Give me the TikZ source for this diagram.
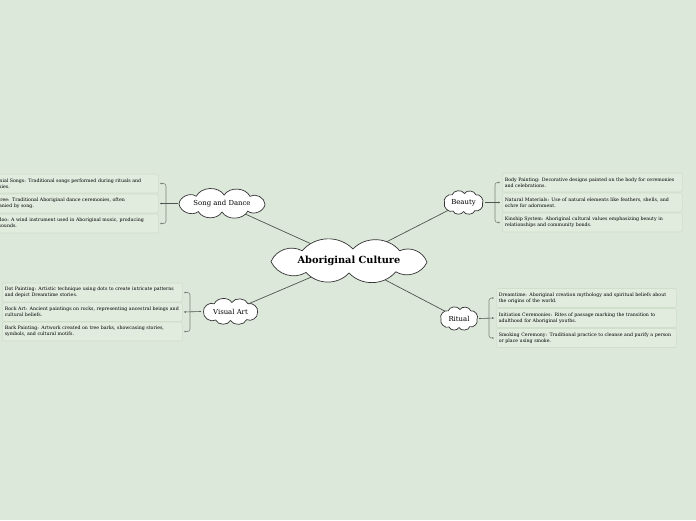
\documentclass[tikz,border=0pt]{standalone}
\usepackage{fontspec}
\setmainfont{DejaVu Serif}
\usetikzlibrary{arrows.meta,backgrounds}
\definecolor{bg}{RGB}{220,232,217}
\definecolor{boxfill}{RGB}{225,235,222}
\definecolor{boxline}{RGB}{208,222,204}
\definecolor{lnk}{RGB}{80,84,80}
\definecolor{brk}{RGB}{125,132,123}
% #1 cx, #2 cy, #3 A, #4 B, #5 bend
\newcommand\puffcloud[5]{%
  \filldraw[cloudline] (#1-0.6*#3,#2-0.85*#4)
    to[bend left=#5] (#1+0.05*#3,#2-#4)
    to[bend left=#5] (#1+0.65*#3,#2-0.85*#4)
    to[bend left=#5] (#1+#3,#2+0.1*#4)
    to[bend left=#5] (#1+0.6*#3,#2+0.9*#4)
    to[bend left=#5] (#1,#2+#4)
    to[bend left=#5] (#1-0.55*#3,#2+0.95*#4)
    to[bend left=#5] (#1-#3,#2+0.05*#4)
    to[bend left=#5] cycle;}
\begin{document}
\begin{tikzpicture}[x=1pt,y=-1pt,
  cloudline/.style={draw=black!80, fill=white, line width=0.7pt},
  cloudtext/.style={rectangle, inner sep=0pt},
  infobox/.style={rectangle, rounded corners=2pt, draw=boxline, fill=boxfill, line width=0.6pt, minimum width=180pt, minimum height=19pt, text width=175pt, align=left, anchor=west, inner sep=0pt, font=\fontsize{4.7}{6}\selectfont},
  link/.style={draw=lnk, line width=0.7pt},
  brace/.style={draw=brk, line width=0.6pt, rounded corners=2.5pt, {Stealth[length=1.8pt,width=1.8pt]}-{Stealth[length=1.8pt,width=1.8pt]}},
  stem/.style={draw=lnk, line width=0.6pt, -{Stealth[length=1.8pt,width=1.8pt]}}
]
\useasboundingbox (0,0) rectangle (696,520);
\clip (0,0) rectangle (696,520);

% clouds
\puffcloud{349}{261}{78}{12}{48}
\node[cloudtext, minimum width=160pt, minimum height=42pt, font=\bfseries\fontsize{9.8}{11}\selectfont] (main) at (349,261) {Aboriginal Culture};
\puffcloud{222}{203.5}{43}{8.5}{60}
\node[cloudtext, minimum width=88pt, minimum height=26pt, font=\fontsize{6.9}{8}\selectfont] (sd) at (222,203.5) {Song and Dance};
\puffcloud{463.5}{202.5}{19}{9}{70}
\node[cloudtext, minimum width=43pt, minimum height=27pt, font=\fontsize{6.9}{8}\selectfont] (be) at (463.5,202.5) {Beauty};
\puffcloud{230.5}{311.5}{27}{9}{65}
\node[cloudtext, minimum width=59pt, minimum height=27pt, font=\fontsize{6.9}{8}\selectfont] (va) at (230.5,311.5) {Visual Art};
\puffcloud{459}{318.5}{18}{9}{70}
\node[cloudtext, minimum width=40pt, minimum height=27pt, font=\fontsize{6.9}{8}\selectfont] (ri) at (459,318.5) {Ritual};

\begin{scope}[on background layer]
\fill[bg] (0,0) rectangle (696,520);
\draw[link] (main.center) -- (sd.center);
\draw[link] (main.center) -- (be.center);
\draw[link] (main.center) -- (va.center);
\draw[link] (main.center) -- (ri.center);
\end{scope}

% Song and Dance boxes
\node[infobox] (sd1) at (-22,183.5) {Ceremonial Songs: Traditional songs performed during rituals and\\ceremonies.};
\node[infobox] (sd2) at (-22,203.5) {Corroboree: Traditional Aboriginal dance ceremonies, often\\accompanied by song.};
\node[infobox] (sd3) at (-22,223.5) {Didgeridoo: A wind instrument used in Aboriginal music, producing\\unique sounds.};
\coordinate (sdT) at (160,183.5);
\coordinate (sdM) at (160,203.5);
\coordinate (sdB) at (160,223.5);
\draw[brace] (sdT) -- ++(6,0) -- ++(0,40) -- (sdB);
\draw[stem] (sd.west) -- (sdM);

% Visual Art boxes
\node[infobox] (va1) at (2,292.5) {Dot Painting: Artistic technique using dots to create intricate patterns\\and depict Dreamtime stories.};
\node[infobox] (va2) at (2,312) {Rock Art: Ancient paintings on rocks, representing ancestral beings and\\cultural beliefs.};
\node[infobox] (va3) at (2,331.5) {Bark Painting: Artwork created on tree barks, showcasing stories,\\symbols, and cultural motifs.};
\coordinate (vaT) at (184,292.5);
\coordinate (vaM) at (184,312);
\coordinate (vaB) at (184,331.5);
\draw[brace] (vaT) -- ++(6,0) -- ++(0,39) -- (vaB);
\draw[stem] (va.west) -- (vaM);

% Beauty boxes
\node[infobox] (be1) at (502,182.5) {Body Painting: Decorative designs painted on the body for ceremonies\\and celebrations.};
\node[infobox] (be2) at (502,202.5) {Natural Materials: Use of natural elements like feathers, shells, and\\ochre for adornment.};
\node[infobox] (be3) at (502,222.5) {Kinship System: Aboriginal cultural values emphasizing beauty in\\relationships and community bonds.};
\coordinate (beT) at (500,182.5);
\coordinate (beM) at (500,202.5);
\coordinate (beB) at (500,222.5);
\draw[brace] (beT) -- ++(-5,0) -- ++(0,40) -- (beB);
\draw[stem] (be.east) -- (beM);

% Ritual boxes
\node[infobox] (ri1) at (496,298) {Dreamtime: Aboriginal creation mythology and spiritual beliefs about\\the origins of the world.};
\node[infobox] (ri2) at (496,318) {Initiation Ceremonies: Rites of passage marking the transition to\\adulthood for Aboriginal youths.};
\node[infobox] (ri3) at (496,338) {Smoking Ceremony: Traditional practice to cleanse and purify a person\\or place using smoke.};
\coordinate (riT) at (494,298);
\coordinate (riM) at (494,318);
\coordinate (riB) at (494,338);
\draw[brace] (riT) -- ++(-5,0) -- ++(0,40) -- (riB);
\draw[stem] (ri.east) -- (riM);
\end{tikzpicture}
\end{document}
